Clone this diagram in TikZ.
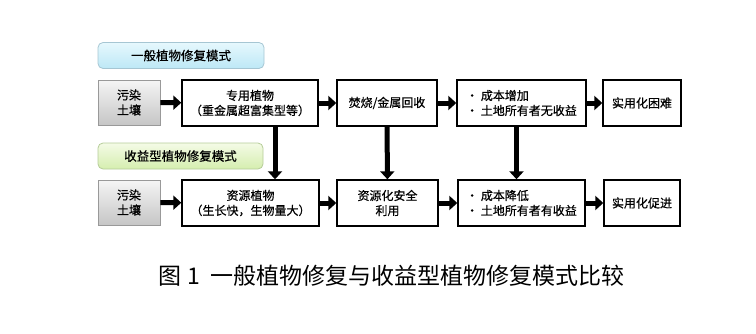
\documentclass[tikz,border=0pt]{standalone}
\usepackage{fontspec}
\setmainfont{Noto Sans CJK SC}
\newfontfamily\boxfont{Noto Sans CJK SC}[FakeBold=0.6]
\usetikzlibrary{arrows.meta}

\definecolor{hdrblue}{HTML}{BDE8F6}
\definecolor{hdrbluel}{HTML}{E6F8FD}
\definecolor{hdrblueb}{HTML}{A6C6D3}
\definecolor{hdrgreen}{HTML}{D5EEAF}
\definecolor{hdrgreenl}{HTML}{F4FBE6}
\definecolor{hdrgreenb}{HTML}{B5CC98}

\begin{document}
\begin{tikzpicture}[x=1pt, y=-1pt,
    box/.style={draw, line width=1.4pt, align=center, inner sep=2pt,
        minimum height=46pt, font=\boxfont\fontsize{12}{15}\selectfont},
    soil/.style={draw=gray!80, line width=0.8pt, align=center,
        minimum width=62pt, minimum height=45pt, top color=gray!8, bottom color=gray!45,
        font=\boxfont\fontsize{12}{15}\selectfont},
    hdr/.style={rounded corners=5pt, line width=0.8pt, minimum height=26pt,
        font=\boxfont\fontsize{12.5}{15}\selectfont},
    bigarrow/.style={line width=5pt, -{Triangle[width=14pt,length=8pt]}}]
    \useasboundingbox (0,0) rectangle (756,333);
    % general mode
    \node[hdr, draw=hdrblueb, top color=hdrbluel, bottom color=hdrblue, minimum width=166pt] (hdrA) at (181,55.5) {一般植物修复模式};
    \node[soil] (soilA) at (129,102.5) {污染\\土壤};
    \node[box, minimum width=136pt] (plantA) at (250,103) {专用植物\\（重金属超富集型等）};
    \node[box, minimum width=100pt] (burnA) at (387,103) {焚烧/金属回收};
    \node[box, minimum width=129pt, align=left] (costA) at (521.5,103) {• 成本增加\\• 土地所有者无收益};
    \node[box, minimum width=78pt] (hardA) at (642,103) {实用化困难};
    % profitable mode
    \node[hdr, draw=hdrgreenb, top color=hdrgreenl, bottom color=hdrgreen, minimum width=165pt] (hdrB) at (180.5,156) {收益型植物修复模式};
    \node[soil] (soilB) at (129,202.5) {污染\\土壤};
    \node[box, minimum width=137pt] (plantB) at (250.5,203) {资源植物\\（生长快，生物量大）};
    \node[box, minimum width=101pt] (useB) at (387.5,203) {资源化安全\\利用};
    \node[box, minimum width=127pt, align=left] (costB) at (521.5,203) {• 成本降低\\• 土地所有者有收益};
    \node[box, minimum width=76pt] (easyB) at (642,203) {实用化促进};
    % horizontal arrows
    \draw[bigarrow] (soilA) -- (plantA);
    \draw[bigarrow] (plantA) -- (burnA);
    \draw[bigarrow] (burnA) -- (costA);
    \draw[bigarrow] (costA) -- (hardA);
    \draw[bigarrow] (soilB) -- (plantB);
    \draw[bigarrow] (plantB) -- (useB);
    \draw[bigarrow] (useB) -- (costB);
    \draw[bigarrow] (costB) -- (easyB);
    % vertical arrows
    \draw[bigarrow] ([xshift=25pt]plantA.south) -- ([xshift=25pt]plantA.south |- plantB.north);
    \draw[bigarrow] (burnA) -- (useB);
    \draw[bigarrow] ([xshift=-5pt]costA.south) -- ([xshift=-5pt]costA.south |- costB.north);
    % caption
    \node[font=\fontsize{23}{26}\selectfont] (cap) at (391.5,276) {图 1\ \ 一般植物修复与收益型植物修复模式比较};
\end{tikzpicture}
\end{document}
